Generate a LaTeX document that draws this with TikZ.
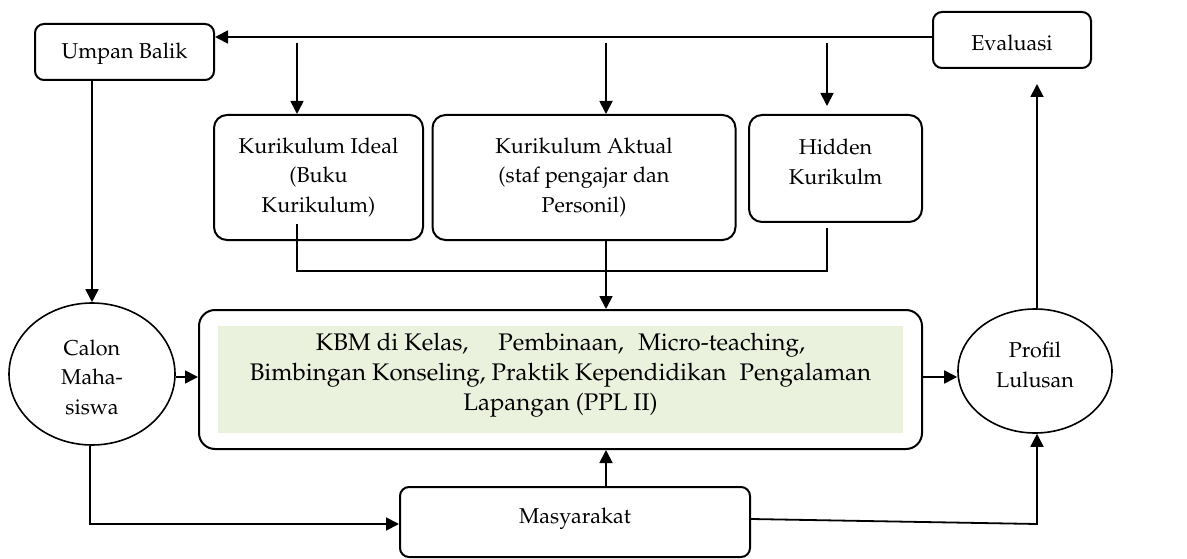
\documentclass[tikz,border=0pt]{standalone}
\usepackage[T1]{fontenc}
\usepackage{mathpazo}
\usetikzlibrary{arrows.meta,shapes.geometric,calc}
\definecolor{kbmgreen}{HTML}{EAF1DD}
\tikzset{
  rbox/.style={draw, line width=2pt, rounded corners=9pt, inner sep=0pt},
  ell/.style={draw, ellipse, line width=1.6pt, inner sep=0pt},
  txt/.style={align=center, inner sep=0pt},
  conn/.style={line width=1.8pt},
  arr/.style={conn, -{Triangle[length=13pt,width=13pt]}},
}
\begin{document}
\begin{tikzpicture}[x=1pt,y=-1pt,font=\fontsize{21.5}{29.5}\selectfont]
\useasboundingbox (0,0) rectangle (1187,559);
% boxes
\node[rbox, minimum width=179pt, minimum height=56pt] (ub) at (124.5,52) {};
\node[txt] (ubt) at (124.5,54) {Umpan Balik};
\node[rbox, minimum width=158pt, minimum height=56pt] (ev) at (1012,40) {};
\node[txt] (evt) at (1012,43) {Evaluasi};
\node[rbox, rounded corners=13pt, minimum width=209pt, minimum height=125pt] (ideal) at (318.5,177.5) {};
\node[txt] (idealt) at (318.5,177) {Kurikulum Ideal\\(Buku\\Kurikulum)};
\node[rbox, rounded corners=13pt, minimum width=303pt, minimum height=125pt] (akt) at (584,177.5) {};
\node[txt] (aktt) at (584,177) {Kurikulum Aktual\\(staf pengajar dan\\Personil)};
\node[rbox, rounded corners=13pt, minimum width=173pt, minimum height=107pt] (hid) at (835.5,168.5) {};
\node[txt] (hidt) at (835.5,162) {Hidden\\Kurikulm};
\node[rbox, rounded corners=16pt, minimum width=723pt, minimum height=139pt] (kbm) at (560.5,379.5) {};
\fill[kbmgreen] (218,326) rectangle (903,433);
\node[txt, font=\fontsize{24}{30}\selectfont] (kbmt) at (560.5,375) {KBM di Kelas,\hspace{1em} Pembinaan,\hspace{0.35em} Micro-teaching,\\Bimbingan Konseling, Praktik Kependidikan\hspace{0.3em} Pengalaman\\Lapangan (PPL II)};
\node[rbox, minimum width=350pt, minimum height=70pt] (mas) at (575,522) {};
\node[txt] (mast) at (575,519) {Masyarakat};
\node[ell, minimum width=166pt, minimum height=142pt] (cal) at (92,374) {};
\node[txt] (calt) at (92,377) {Calon\\Maha-\\siswa};
\node[ell, minimum width=154pt, minimum height=124pt] (prof) at (1035,371) {};
\node[txt] (proft) at (1035,365) {Profil\\Lulusan};
% helper coordinates
\coordinate (tl) at (0,37);
\coordinate (xi) at (297,0);
\coordinate (xa) at (606,0);
\coordinate (xh) at (827,0);
\coordinate (xp) at (1037,0);
\coordinate (jy) at (0,271);
\coordinate (my) at (0,524);
\coordinate (ry) at (0,377);
% connectors
\draw[arr] (ev.west |- tl) -- (ub.east |- tl);
\draw[arr] ([yshift=-6pt]xi |- tl) -- (xi |- ideal.north);
\draw[arr] ([yshift=-6pt]xa |- tl) -- (xa |- akt.north);
\draw[arr] ([yshift=-6pt]xh |- tl) -- ([yshift=8pt]xh |- hid.north);
\draw[conn] ([yshift=17pt]xi |- ideal.south) -- (xi |- jy) -- (xh |- jy) -- ([yshift=-5pt]xh |- hid.south);
\draw[arr] (xa |- akt.south) -- (xa |- kbm.north);
\draw[arr] (ub.south -| cal.north) -- (cal.north);
\draw[arr] (cal.east |- ry) -- (kbm.west |- ry);
\draw[arr] ([xshift=-2pt]cal.south) -- ([xshift=-2pt]cal.south |- my) -- (mas.west |- my);
\draw[arr] (xa |- mas.north) -- (xa |- kbm.south);
\draw[arr] ([yshift=3pt]mas.east) -- (xp |- my) -- (xp |- prof.south);
\draw[arr] (kbm.east |- ry) -- (prof.west |- ry);
\draw[arr] (xp |- prof.north) -- ([yshift=-15pt]xp |- ev.south);
\end{tikzpicture}
\end{document}
